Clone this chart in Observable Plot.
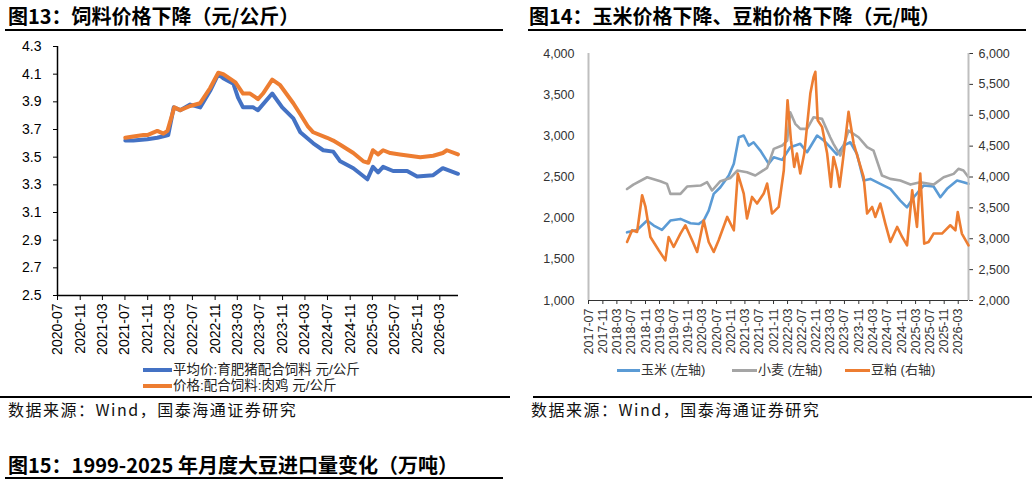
<!DOCTYPE html>
<html><head><meta charset="utf-8">
<script src="https://cdn.jsdelivr.net/npm/d3@7"></script>
<script src="https://cdn.jsdelivr.net/npm/@observablehq/plot@0.6"></script>
<style>
body{margin:0;background:#fff;}
#page{position:relative;width:1032px;height:485px;overflow:hidden;font-family:"Noto Sans CJK SC","Noto Sans",sans-serif;color:#000;}
.title{position:absolute;font-weight:bold;font-size:20px;line-height:20px;white-space:nowrap;}
.hr{position:absolute;height:1.5px;background:#000;}
.src{position:absolute;font-size:16px;line-height:16px;letter-spacing:1.5px;white-space:nowrap;color:#111;}
.chart{position:absolute;}
.leg{position:absolute;display:flex;align-items:center;white-space:nowrap;font-family:"Liberation Sans","Noto Sans CJK SC",sans-serif;}
.sw{display:inline-block;}
</style>
</head><body>
<div id="page">
  <div class="title" style="left:8px;top:6px;">图13：饲料价格下降（元/公斤）</div>
  <div class="hr" style="left:5px;top:29px;width:498px;"></div>
  <div class="title" style="left:529px;top:6px;">图14：玉米价格下降、豆粕价格下降（元/吨）</div>
  <div class="hr" style="left:528px;top:29px;width:498px;"></div>

  <div class="chart" id="left" style="left:0;top:35px;"></div>
  <div class="chart" id="rightA" style="left:520px;top:35px;"></div>
  <div class="chart" id="rightB" style="left:520px;top:35px;"></div>

  <div class="hr" style="left:0;top:396px;width:510px;"></div>
  <div class="hr" style="left:533px;top:396px;width:499px;"></div>
  <div class="src" style="left:8px;top:401px;">数据来源：Wind，国泰海通证券研究</div>
  <div class="src" style="left:531px;top:401px;">数据来源：Wind，国泰海通证券研究</div>

  <div class="title" style="left:8px;top:455px;">图15：1999-2025 年月度大豆进口量变化（万吨）</div>
  <div class="hr" style="left:5px;top:477px;width:498px;"></div>
</div>
<script>
// ---------- Figure 13 data (元/公斤) ----------
const pigFeedName = "平均价:育肥猪配合饲料 元/公斤";
const pigFeedDates = ["2021-07-03","2021-08-15","2021-10-30","2021-12-23","2022-02-05","2022-02-20","2022-03-22","2022-04-26","2022-06-19","2022-08-12","2022-10-05","2022-11-18","2022-12-15","2023-02-08","2023-03-05","2023-04-01","2023-05-25","2023-06-21","2023-09-06","2023-10-30","2023-12-29","2024-02-05","2024-04-15","2024-06-08","2024-08-01","2024-09-08","2024-11-18","2025-02-02","2025-03-04","2025-04-01","2025-04-28","2025-06-21","2025-09-05","2025-10-29","2026-01-24","2026-03-17","2026-06-07"];
const pigFeedValues = [3.62,3.62,3.63,3.64,3.655,3.66,3.86,3.84,3.88,3.86,3.98,4.10,4.07,4.03,3.93,3.86,3.86,3.84,3.96,3.86,3.78,3.68,3.60,3.55,3.54,3.47,3.42,3.34,3.43,3.39,3.43,3.40,3.40,3.36,3.37,3.42,3.38];

const broilerFeedName = "价格:配合饲料:肉鸡 元/公斤";
const broilerFeedDates = ["2021-07-03","2021-08-15","2021-10-09","2021-10-30","2021-12-23","2022-01-25","2022-02-16","2022-03-25","2022-04-26","2022-06-19","2022-08-12","2022-10-05","2022-11-18","2022-12-15","2023-01-06","2023-02-19","2023-04-01","2023-05-09","2023-06-21","2023-07-18","2023-09-06","2023-10-19","2023-12-29","2024-02-05","2024-03-18","2024-04-15","2024-06-29","2024-08-01","2024-09-08","2024-11-18","2025-01-11","2025-02-07","2025-03-04","2025-04-01","2025-04-28","2025-06-06","2025-07-28","2025-11-15","2026-01-24","2026-03-17","2026-04-08","2026-06-07"];
const broilerFeedValues = [3.64,3.65,3.66,3.66,3.69,3.67,3.69,3.86,3.84,3.87,3.89,4.00,4.11,4.10,4.08,4.04,3.96,3.96,3.92,3.96,4.06,4.02,3.89,3.81,3.72,3.68,3.64,3.62,3.59,3.53,3.47,3.46,3.55,3.52,3.55,3.53,3.52,3.50,3.51,3.53,3.55,3.52];

const leftXDomain = ["2020-07-01","2026-06-10"];
const leftYDomain = [2.5, 4.3];
const leftYTicks = [2.5,2.7,2.9,3.1,3.3,3.5,3.7,3.9,4.1,4.3];

// ---------- Figure 14 data (元/吨) ----------
const cornName = "玉米 (左轴)";
const cornDates = ["2018-05-27","2018-08-21","2018-11-15","2019-01-11","2019-03-22","2019-06-02","2019-08-27","2019-11-21","2020-02-01","2020-03-13","2020-04-25","2020-06-07","2020-08-03","2020-10-14","2020-11-26","2021-01-08","2021-02-19","2021-04-02","2021-05-14","2021-07-11","2021-09-21","2021-11-03","2022-01-14","2022-03-24","2022-06-18","2022-08-15","2022-11-09","2023-01-05","2023-03-01","2023-04-28","2023-06-23","2023-08-20","2023-10-16","2023-12-12","2024-02-08","2024-05-03","2024-07-28","2024-10-21","2024-12-18","2025-02-13","2025-05-08","2025-08-02","2025-09-29","2025-11-25","2026-02-19","2026-04-15","2026-05-28"];
const cornValues = [1828,1857,1971,1910,1857,1971,1991,1938,1930,1971,2092,2295,2376,2518,2660,2983,3004,2882,2922,2821,2660,2740,2708,2862,2903,2801,3004,2943,2862,2773,2882,2922,2781,2457,2477,2417,2356,2214,2132,2254,2396,2384,2254,2356,2457,2437,2417];

const wheatName = "小麦 (左轴)";
const wheatDates = ["2018-05-27","2018-07-20","2018-11-15","2019-03-08","2019-05-04","2019-06-02","2019-08-27","2019-10-23","2020-02-15","2020-04-11","2020-05-24","2020-08-03","2020-10-28","2020-12-25","2021-03-19","2021-05-29","2021-09-07","2021-11-03","2022-01-14","2022-02-26","2022-03-24","2022-05-06","2022-06-18","2022-08-15","2022-10-10","2022-12-21","2023-03-01","2023-03-29","2023-05-26","2023-08-05","2023-10-30","2024-01-11","2024-03-06","2024-05-17","2024-07-28","2024-10-21","2025-01-16","2025-04-10","2025-08-02","2025-10-27","2026-01-21","2026-03-03","2026-04-15","2026-05-28"];
const wheatValues = [2354,2408,2497,2449,2417,2295,2295,2384,2396,2437,2336,2449,2489,2578,2558,2518,2611,2842,2882,2943,3287,3146,3085,3085,3226,3206,2983,2903,2761,3064,2983,2862,2821,2518,2477,2457,2408,2437,2408,2497,2538,2599,2578,2497];

const mealName = "豆粕 (右轴)";
const mealDates = ["2018-05-27","2018-07-09","2018-08-21","2018-10-03","2018-11-01","2018-12-13","2019-02-22","2019-04-20","2019-05-18","2019-06-30","2019-08-27","2019-10-08","2019-12-05","2020-01-17","2020-03-13","2020-04-25","2020-06-07","2020-07-19","2020-09-30","2020-11-26","2020-12-30","2021-02-19","2021-03-19","2021-05-01","2021-06-13","2021-08-09","2021-09-07","2021-10-19","2021-12-15","2022-01-28","2022-03-01","2022-03-30","2022-04-27","2022-05-20","2022-06-18","2022-07-22","2022-08-20","2022-09-12","2022-10-10","2022-10-25","2022-11-14","2022-12-21","2023-02-03","2023-03-07","2023-03-29","2023-04-28","2023-05-20","2023-06-18","2023-08-05","2023-09-18","2023-10-30","2023-12-12","2024-01-11","2024-02-23","2024-03-21","2024-05-03","2024-06-15","2024-07-28","2024-09-24","2024-11-06","2024-12-18","2025-01-31","2025-03-13","2025-04-10","2025-05-14","2025-06-20","2025-08-02","2025-10-13","2025-12-23","2026-02-05","2026-02-25","2026-04-01","2026-05-28"];
const mealValues = [2948,3137,3110,3705,3515,3029,2813,2651,3029,2867,3084,3218,2975,2786,3300,2948,2786,2975,3353,3137,4056,3732,3327,3677,3570,3732,3894,3408,3515,4110,5244,4596,4164,4380,4056,4380,4920,5352,5622,5703,4920,4812,4380,3840,4325,4110,3840,4272,5056,4542,4272,4002,3408,3515,3353,3570,3246,2948,3191,3029,2894,3785,3191,4056,2921,2948,3084,3084,3218,3137,3434,3084,2894];

const rightXDomain = ["2017-07-01","2026-05-28"];
const rightYDomain = [1000, 4000];
const rightYTicks = [1000,1500,2000,2500,3000,3500,4000];
const right2YDomain = [2000, 6000];
const right2YTicks = [2000,2500,3000,3500,4000,4500,5000,5500,6000];

// ---------- colours ----------
const cPig = "#4472C4", cBroiler = "#ED7D31";
const cCorn = "#5B9BD5", cWheat = "#A5A5A5", cMeal = "#ED7D31";

const toRows = (dates, values) => dates.map((d, i) => ({date: new Date(d), value: values[i]}));
const fmtMonth = d3.utcFormat("%Y-%m");

// ---------- Figure 13 ----------
const lxd = leftXDomain.map(d => new Date(d));
const leftTicks = d3.utcMonth.range(new Date("2020-07-01"), new Date("2026-04-01"), 4);
const left = Plot.plot({
  width: 470, height: 330,
  marginLeft: 57, marginRight: 12, marginTop: 11, marginBottom: 70,
  style: {fontFamily: "'Liberation Sans', Arial, sans-serif", fontSize: "14px", color: "#000", background: "transparent", overflow: "visible"},
  x: {type: "utc", domain: lxd, ticks: leftTicks, tickFormat: fmtMonth, tickRotate: -90, tickSize: 5, tickPadding: 3, label: null},
  y: {domain: leftYDomain, ticks: leftYTicks, tickFormat: d3.format(".1f"), tickSize: 4, tickPadding: 12, label: null},
  marks: [
    Plot.ruleX([lxd[0]], {stroke: "#000", strokeWidth: 1.5}),
    Plot.ruleY([leftYDomain[0]], {stroke: "#000", strokeWidth: 1.5}),
    Plot.line(toRows(pigFeedDates, pigFeedValues), {x: "date", y: "value", stroke: cPig, strokeWidth: 4}),
    Plot.line(toRows(broilerFeedDates, broilerFeedValues), {x: "date", y: "value", stroke: cBroiler, strokeWidth: 4})
  ]
});
document.getElementById("left").append(left);

// ---------- Figure 14 ----------
const rxd = rightXDomain.map(d => new Date(d));
const rightTicks = d3.utcMonth.range(new Date("2017-07-01"), new Date("2026-04-01"), 4);
const rightA = Plot.plot({
  width: 512, height: 330,
  marginLeft: 68, marginRight: 64, marginTop: 18, marginBottom: 65,
  style: {fontFamily: "'Liberation Sans', Arial, sans-serif", fontSize: "12.5px", color: "#333", background: "transparent", overflow: "visible"},
  x: {type: "utc", domain: rxd, ticks: rightTicks, tickFormat: fmtMonth, tickRotate: -90, tickSize: 4, tickPadding: 4, label: null},
  y: {domain: rightYDomain, ticks: rightYTicks, tickFormat: d3.format(","), tickSize: 0, tickPadding: 14, label: null},
  marks: [
    Plot.ruleX([rxd[0]], {stroke: "#bfbfbf", strokeWidth: 2}),
    Plot.ruleY([rightYDomain[0]], {stroke: "#333", strokeWidth: 1.2}),
    Plot.line(toRows(cornDates, cornValues), {x: "date", y: "value", stroke: cCorn, strokeWidth: 2.6}),
    Plot.line(toRows(wheatDates, wheatValues), {x: "date", y: "value", stroke: cWheat, strokeWidth: 2.6})
  ]
});
document.getElementById("rightA").append(rightA);

const rightB = Plot.plot({
  width: 512, height: 330,
  marginLeft: 68, marginRight: 64, marginTop: 18, marginBottom: 65,
  style: {fontFamily: "'Liberation Sans', Arial, sans-serif", fontSize: "12.5px", color: "#333", background: "transparent", overflow: "visible"},
  x: {type: "utc", domain: rxd, axis: null},
  y: {domain: right2YDomain, ticks: right2YTicks, tickFormat: d3.format(","), axis: "right", tickSize: 4, tickPadding: 6, label: null},
  marks: [
    Plot.ruleX([rxd[1]], {stroke: "#bfbfbf", strokeWidth: 2}),
    Plot.line(toRows(mealDates, mealValues), {x: "date", y: "value", stroke: cMeal, strokeWidth: 2.6})
  ]
});
document.getElementById("rightB").append(rightB);

// ---------- legends ----------
function legItem(parent, left, top, color, w, h, text, fontSize, textColor, boxH) {
  const d = document.createElement("div");
  d.className = "leg";
  d.style.left = left + "px"; d.style.top = top + "px";
  d.style.height = boxH + "px"; d.style.lineHeight = boxH + "px";
  d.style.fontSize = fontSize + "px"; d.style.color = textColor;
  const s = document.createElement("span");
  s.className = "sw"; s.style.width = w + "px"; s.style.height = h + "px"; s.style.background = color;
  s.style.marginRight = "1px";
  const t = document.createElement("span"); t.textContent = text;
  d.append(s, t);
  parent.append(d);
}
const page = document.getElementById("page");
legItem(page, 143, 362, cPig, 29, 4, pigFeedName, 13.5, "#222", 16);
legItem(page, 143, 378, cBroiler, 29, 4, broilerFeedName, 13.5, "#222", 16);
legItem(page, 617, 362, cCorn, 23, 3, cornName, 13, "#333", 16);
legItem(page, 732, 362, cWheat, 25, 3, wheatName, 13, "#333", 16);
legItem(page, 845, 362, cMeal, 25, 3, mealName, 13, "#333", 16);
</script>
</body></html>
